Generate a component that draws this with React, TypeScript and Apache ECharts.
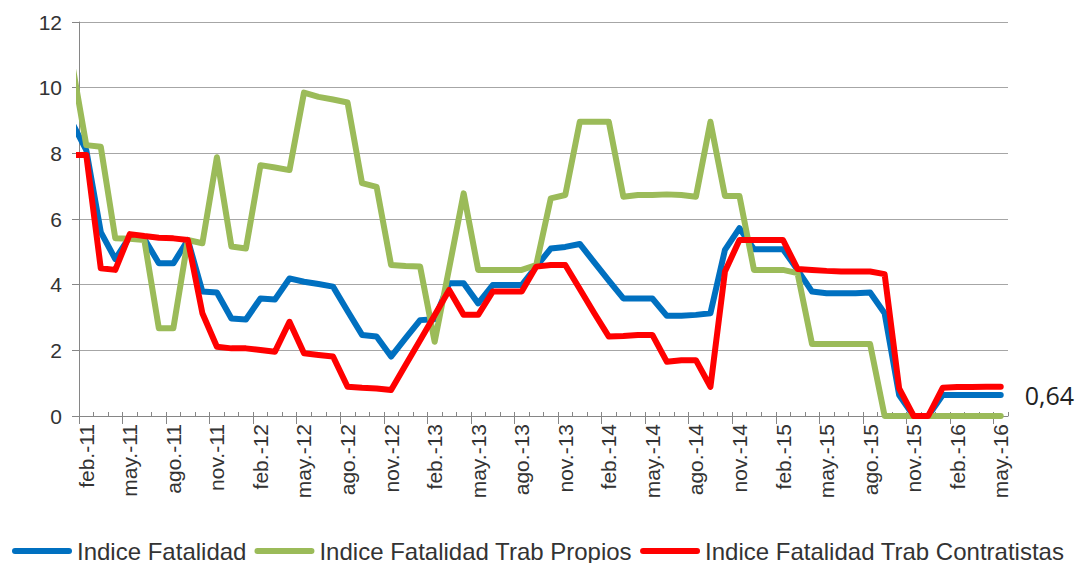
import React, { useEffect, useRef } from "react";
import * as echarts from "echarts";

// Categories: jan.-11 is present in the data but sits before the axis start (clipped, as in the original)
const months = [
  "ene.-11", "feb.-11", "mar.-11", "abr.-11", "may.-11", "jun.-11", "jul.-11", "ago.-11", "sep.-11", "oct.-11", "nov.-11", "dic.-11",
  "ene.-12", "feb.-12", "mar.-12", "abr.-12", "may.-12", "jun.-12", "jul.-12", "ago.-12", "sep.-12", "oct.-12", "nov.-12", "dic.-12",
  "ene.-13", "feb.-13", "mar.-13", "abr.-13", "may.-13", "jun.-13", "jul.-13", "ago.-13", "sep.-13", "oct.-13", "nov.-13", "dic.-13",
  "ene.-14", "feb.-14", "mar.-14", "abr.-14", "may.-14", "jun.-14", "jul.-14", "ago.-14", "sep.-14", "oct.-14", "nov.-14", "dic.-14",
  "ene.-15", "feb.-15", "mar.-15", "abr.-15", "may.-15", "jun.-15", "jul.-15", "ago.-15", "sep.-15", "oct.-15", "nov.-15", "dic.-15",
  "ene.-16", "feb.-16", "mar.-16", "abr.-16", "may.-16",
];

const indiceFatalidad = [
  8.95,
  8.1, 5.6, 4.78, 5.46, 5.4, 4.65, 4.65, 5.36, 3.79, 3.76, 2.97,
  2.94, 3.58, 3.55, 4.19, 4.09, 4.02, 3.94, 3.2, 2.47, 2.42, 1.81,
  2.37, 2.92, 2.95, 4.04, 4.04, 3.43, 3.99, 3.99, 3.99, 4.55, 5.1,
  5.15, 5.24, 4.68, 4.12, 3.58, 3.58, 3.58, 3.05, 3.05, 3.08, 3.13,
  5.06, 5.72, 5.08, 5.08, 5.08, 4.45, 3.79, 3.74, 3.74, 3.74, 3.76,
  3.13, 0.64, 0, 0, 0.64, 0.64, 0.64, 0.64, 0.64,
];

const indicePropios = [
  10.8,
  8.25, 8.2, 5.41, 5.4, 5.36, 2.67, 2.67, 5.36, 5.26, 7.88, 5.16,
  5.1, 7.64, 7.57, 7.49, 9.85, 9.72, 9.64, 9.55, 7.09, 6.98, 4.6,
  4.57, 4.55, 2.26, 4.5, 6.78, 4.45, 4.45, 4.45, 4.45, 4.6, 6.63,
  6.73, 8.96, 8.96, 8.96, 6.68, 6.73, 6.73, 6.75, 6.73, 6.68, 8.96,
  6.7, 6.7, 4.45, 4.45, 4.45, 4.35, 2.19, 2.19, 2.19, 2.19, 2.19,
  0, 0, 0, 0, 0, 0, 0, 0, 0,
];

const indiceContratistas = [
  7.95,
  7.95, 4.5, 4.45, 5.54, 5.48, 5.43, 5.41, 5.36, 3.13, 2.11, 2.06,
  2.06, 2.01, 1.96, 2.87, 1.91, 1.86, 1.81, 0.89, 0.86, 0.84, 0.79,
  1.55, 2.31, 3.07, 3.84, 3.08, 3.08, 3.79, 3.79, 3.79, 4.55, 4.6,
  4.6, 3.87, 3.13, 2.42, 2.44, 2.47, 2.47, 1.65, 1.7, 1.7, 0.89,
  4.4, 5.36, 5.36, 5.36, 5.36, 4.48, 4.45, 4.42, 4.4, 4.4, 4.4,
  4.32, 0.84, 0, 0, 0.86, 0.88, 0.88, 0.89, 0.89,
];

const seriesNames = [
  "Indice Fatalidad",
  "Indice Fatalidad Trab Propios",
  "Indice Fatalidad Trab Contratistas",
];
const seriesColors = ["#0070C0", "#9BBB59", "#FF0000"];
const yTicks = [0, 2, 4, 6, 8, 10, 12];

const FONT = "'Liberation Sans', Arial, sans-serif";
const firstIdx = 1; // feb.-11
const isLabeled = (i: number) => i >= firstIdx && (i - firstIdx) % 3 === 0;
const majorTickValues = months
  .map((_, i) => i)
  .filter(isLabeled)
  .map((i) => i - firstIdx);

export default function App() {
  const ref = useRef<HTMLDivElement>(null);
  useEffect(() => {
    if (!ref.current) return;
    const chart = echarts.init(ref.current, undefined, { renderer: "svg" });
    const axisGray = "#868686";
    const datasets = [indiceFatalidad, indicePropios, indiceContratistas];
    chart.setOption({
      animation: false,
      backgroundColor: "#ffffff",
      grid: { left: 79, top: 22, width: 929, height: 394, containLabel: false },
      legend: {
        data: seriesNames,
        left: 12,
        top: 539,
        padding: 0,
        itemWidth: 60,
        itemHeight: 6,
        itemGap: 8,
        icon: "path://M3,0 L57,0 A3,3 0 0 1 57,6 L3,6 A3,3 0 0 1 3,0 Z",
        textStyle: { fontSize: 24, color: "#333333", fontFamily: FONT },
      },
      xAxis: [
        {
          type: "category",
          data: months,
          min: firstIdx,
          boundaryGap: true,
          position: "bottom",
          axisLine: { show: true, onZero: false, lineStyle: { color: axisGray, width: 1 } },
          axisTick: { show: true, inside: true, length: 4, interval: 0, lineStyle: { color: axisGray } },
          axisLabel: {
            interval: (i: number) => isLabeled(i),
            rotate: 90,
            margin: 8,
            fontSize: 21,
            color: "#333333",
            fontFamily: FONT,
          },
          splitLine: { show: false },
        },
        {
          type: "value",
          min: 0,
          max: months.length - firstIdx,
          interval: 3,
          position: "bottom",
          axisLine: { show: false, onZero: false },
          axisTick: {
            show: true,
            length: 8,
            customValues: majorTickValues,
            lineStyle: { color: axisGray },
          },
          axisLabel: { show: false },
          splitLine: { show: false },
        },
      ],
      yAxis: {
        type: "value",
        min: yTicks[0],
        max: yTicks[yTicks.length - 1],
        interval: 2,
        axisLine: { show: true, lineStyle: { color: axisGray, width: 1 } },
        axisTick: { show: true, length: 7, lineStyle: { color: axisGray } },
        axisLabel: { margin: 17, fontSize: 21, color: "#333333", fontFamily: FONT },
        splitLine: { show: true, lineStyle: { color: "#A6A6A6", width: 1 } },
      },
      series: datasets.map((d, si) => ({
        name: seriesNames[si],
        type: "line",
        xAxisIndex: 0,
        data: d,
        symbol: "none",
        showSymbol: false,
        clip: true,
        color: seriesColors[si],
        lineStyle: { color: seriesColors[si], width: 6, cap: "round", join: "round" },
        z: 2 + si,
        endLabel:
          si === 0
            ? {
                show: true,
                distance: 24,
                formatter: (p: any) => String(p.value).replace(".", ","),
                fontSize: 25,
                fontFamily: "'Open Sans', sans-serif",
                color: "#222222",
              }
            : { show: false },
      })),
    });
    return () => chart.dispose();
  }, []);
  return (
    <div
      ref={ref}
      style={{ position: "fixed", left: 0, top: 0, width: 1082, height: 563, background: "#fff" }}
    />
  );
}
